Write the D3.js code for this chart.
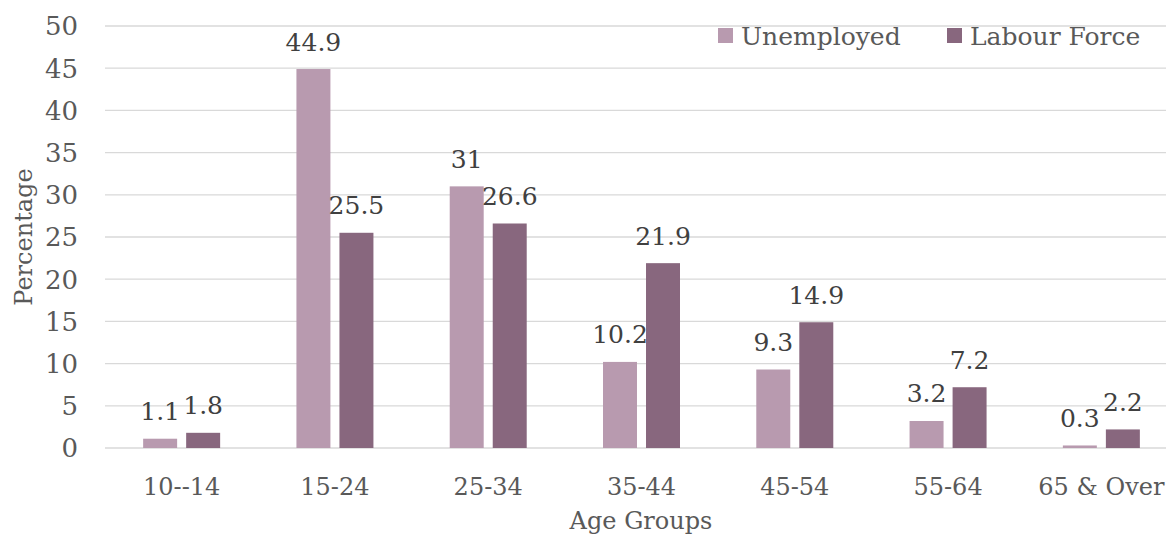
<!DOCTYPE html>
<html>
    <head>
        <title>Unemployed vs labour force by age group</title>
        <script src="https://d3js.org/d3.v7.min.js"></script>
        <style>
            body { margin: 0; background: #fff; }
            svg {
                width: 1166px;
                height: 542px;
                display: block;
            }
            text {
                font-family: "DejaVu Serif", serif;
            }
            .y-label { font-size: 26px; fill: #595959; }
            .x-label { font-size: 24px; fill: #595959; }
            .data-label { font-size: 25px; fill: #404040; }
            .axis-title { font-size: 24px; fill: #595959; }
            .legend-text { font-size: 25px; fill: #595959; }
        </style>
    </head>
    <body>
        <svg id="chart"></svg>
    </body>
    <script>
        // data
        const ageGroups = ['10--14', '15-24', '25-34', '35-44', '45-54', '55-64', '65 & Over'];
        const seriesNames = ['Unemployed', 'Labour Force'];
        const unemployed = [1.1, 44.9, 31, 10.2, 9.3, 3.2, 0.3];
        const labourForce = [1.8, 25.5, 26.6, 21.9, 14.9, 7.2, 2.2];
        const yTicks = [0, 5, 10, 15, 20, 25, 30, 35, 40, 45, 50];
        const colors = ['#b89aaf', '#88677e'];

        const svg = d3.select('#chart');
        const width = 1166, height = 542;

        // plot area (the right end runs past the picture, as in the original crop)
        const plot = { left: 105, right: 1178, top: 26, bottom: 448 };

        const rows = ageGroups.map((g, i) => ({
            group: g,
            values: [
                { key: seriesNames[0], value: unemployed[i] },
                { key: seriesNames[1], value: labourForce[i] }
            ]
        }));

        const x0 = d3.scaleBand()
            .domain(ageGroups)
            .range([plot.left, plot.right])
            .paddingInner(0)
            .paddingOuter(0);
        const bw = x0.bandwidth();
        const x1 = d3.scaleBand()
            .domain(seriesNames)
            .range([bw / 2 - 38.5, bw / 2 + 38.5])
            .paddingInner(0.21);
        const color = d3.scaleOrdinal().domain(seriesNames).range(colors);

        const y = d3.scaleLinear()
            .domain([0, 50])
            .range([plot.bottom, plot.top]);

        // gridlines
        svg.append('g')
            .selectAll('line')
            .data(yTicks)
            .enter()
            .append('line')
            .attr('x1', plot.left)
            .attr('x2', width)
            .attr('y1', d => y(d))
            .attr('y2', d => y(d))
            .attr('stroke', '#d9d9d9')
            .attr('stroke-width', 1.3);

        // y tick labels
        svg.append('g')
            .selectAll('text')
            .data(yTicks)
            .enter()
            .append('text')
            .attr('class', 'y-label')
            .attr('x', 78)
            .attr('y', d => y(d))
            .attr('dy', '0.36em')
            .attr('text-anchor', 'end')
            .text(d => d);

        // bars
        const groups = svg.append('g')
            .selectAll('g')
            .data(rows)
            .enter()
            .append('g')
            .attr('transform', d => `translate(${x0(d.group)},0)`);

        groups.selectAll('rect')
            .data(d => d.values)
            .enter()
            .append('rect')
            .attr('x', d => x1(d.key))
            .attr('width', x1.bandwidth())
            .attr('y', d => y(d.value))
            .attr('height', d => y(0) - y(d.value))
            .attr('fill', d => color(d.key));

        // data labels
        groups.selectAll('text')
            .data(d => d.values)
            .enter()
            .append('text')
            .attr('class', 'data-label')
            .attr('x', d => x1(d.key) + x1.bandwidth() / 2)
            .attr('y', d => y(d.value) - 18.5)
            .attr('text-anchor', 'middle')
            .text(d => d.value);

        // x tick labels
        svg.append('g')
            .selectAll('text')
            .data(ageGroups)
            .enter()
            .append('text')
            .attr('class', 'x-label')
            .attr('x', d => x0(d) + bw / 2)
            .attr('y', 495)
            .attr('text-anchor', 'middle')
            .text(d => d);

        // axis titles
        svg.append('text')
            .attr('class', 'axis-title')
            .attr('text-anchor', 'middle')
            .attr('x', 641)
            .attr('y', 529)
            .text('Age Groups');
        svg.append('text')
            .attr('class', 'axis-title')
            .attr('transform', 'rotate(-90)')
            .attr('x', -(plot.top + plot.bottom) / 2)
            .attr('y', 32)
            .attr('text-anchor', 'middle')
            .text('Percentage');

        // legend
        const legendX = [718, 947];
        const legend = svg.append('g')
            .selectAll('g')
            .data(seriesNames)
            .enter()
            .append('g')
            .attr('transform', (d, i) => `translate(${legendX[i]},28)`);
        legend.append('rect')
            .attr('width', 15)
            .attr('height', 15)
            .attr('fill', d => color(d));
        legend.append('text')
            .attr('class', 'legend-text')
            .attr('x', 23)
            .attr('y', 17)
            .text(d => d);
    </script>
</html>
